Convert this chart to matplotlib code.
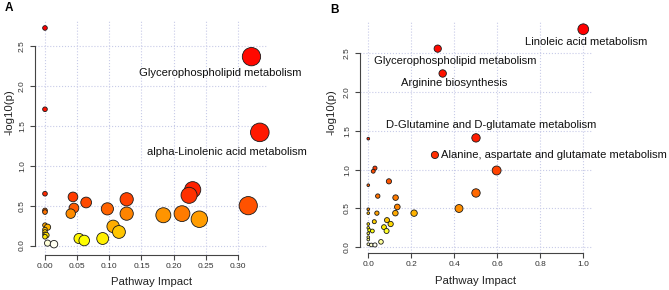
import numpy as np
import matplotlib
matplotlib.use("Agg")
import matplotlib.pyplot as plt
from matplotlib.colors import hsv_to_rgb

plt.rcParams['font.family'] = ['Liberation Sans', 'DejaVu Sans']

# Painel A: impacto da via e -log10(p)
impact_a = [0.0, 0.321, 0.0, 0.334, 0.2296, 0.0, 0.224, 0.0435, 0.127, 0.064,
            0.316, 0.045, 0.097, 0.0, 0.0, 0.213, 0.127, 0.040, 0.184, 0.240,
            0.0, 0.106, 0.004, 0.0, 0.115, 0.0, 0.0, 0.002, 0.0, 0.0897,
            0.053, 0.061, 0.004, 0.014]
logp_a = [2.73, 2.37, 1.71, 1.42, 0.70, 0.65, 0.63, 0.61, 0.58, 0.54,
          0.50, 0.47, 0.46, 0.44, 0.42, 0.40, 0.40, 0.40, 0.38, 0.33,
          0.255, 0.24, 0.23, 0.20, 0.17, 0.17, 0.14, 0.13, 0.11, 0.088,
          0.088, 0.063, 0.03, 0.017]
labels_a = ['Glycerophospholipid metabolism', 'alpha-Linolenic acid metabolism']
label_pos_a = [(0.272, 2.16), (0.2824, 1.176)]

# Painel B
impact_b = [1.0, 0.323, 0.346, 0.501, 0.0, 0.310, 0.031, 0.597, 0.023, 0.096,
            0.0, 0.501, 0.044, 0.127, 0.135, 0.422, 0.0, 0.040, 0.126, 0.213,
            0.0, 0.087, 0.028, 0.104, 0.0, 0.073, 0.0, 0.005, 0.019, 0.085,
            0.0, 0.0, 0.0, 0.059, 0.0, 0.014, 0.031]
logp_b = [2.81, 2.56, 2.24, 1.41, 1.40, 1.19, 1.02, 0.99, 0.98, 0.85,
          0.80, 0.70, 0.66, 0.64, 0.52, 0.50, 0.49, 0.44, 0.44, 0.44,
          0.44, 0.35, 0.33, 0.30, 0.30, 0.26, 0.25, 0.22, 0.21, 0.21,
          0.18, 0.13, 0.10, 0.07, 0.04, 0.03, 0.03]
labels_b = ['Linoleic acid metabolism', 'Glycerophospholipid metabolism',
            'Arginine biosynthesis', 'D-Glutamine and D-glutamate metabolism',
            'Alanine, aspartate and glutamate metabolism']
label_pos_b = [(1.0126, 2.65), (0.4065, 2.40), (0.40, 2.12), (0.573, 1.57), (0.865, 1.186)]


def heat_colors(n):
    # equivalente ao heat.colors do R
    j = n // 4
    i = n - j
    cols = [hsv_to_rgb((h, 1, 1)) for h in np.linspace(0, 1 / 6, i)]
    if j > 0:
        cols += [hsv_to_rgb((1 / 6, s, 1)) for s in np.linspace(1 - 1 / (2 * j), 1 / (2 * j), j)]
    return cols


def painel(ax, x, y, labels, label_pos, xlim, ylim, xticks, fmt, letra, n_escala, n_branco, ylab_x):
    x = np.array(x)
    y = np.array(y)
    inx = np.argsort(-y, kind='stable')
    x, y = x[inx], y[inx]
    sqx = np.sqrt(x)
    max_r = (sqx.max() - sqx.min()) / 40
    min_r = (sqx.max() - sqx.min()) / 160
    radi = min_r + (max_r - min_r) * (sqx - sqx.min()) / (sqx.max() - sqx.min())

    # cores pela ordem de significancia (escala heat), os ultimos ficam brancos
    escala = heat_colors(n_escala)
    n = len(y)
    idx = list(range(n - n_branco)) + list(range(n_escala - n_branco, n_escala))
    cores = [escala[k] for k in idx]

    ax.set_xlim(xlim)
    ax.set_ylim(ylim)
    fig = ax.figure
    w_px = ax.get_position().width * fig.get_figwidth() * fig.dpi
    r_pt = radi * w_px / (xlim[1] - xlim[0]) * 72 / fig.dpi
    ax.scatter(x, y, s=(2 * r_pt) ** 2, c=cores, edgecolors='#1a1a1a',
               linewidths=0.6, zorder=3, clip_on=False)

    ax.grid(True, color='#c8cbe8', linestyle=':', linewidth=0.8)
    ax.set_axisbelow(True)
    for s in ['top', 'right']:
        ax.spines[s].set_visible(False)
    ax.spines['left'].set_bounds(0, 2.5)
    ax.spines['bottom'].set_bounds(xticks[0], xticks[-1])
    for s in ['left', 'bottom']:
        ax.spines[s].set_color('#444444')
        ax.spines[s].set_linewidth(0.8)
    ax.set_xticks(xticks)
    ax.set_xticklabels([fmt.format(t) for t in xticks])
    ax.set_yticks([0, 0.5, 1.0, 1.5, 2.0, 2.5])
    ax.set_yticklabels(['0.0', '0.5', '1.0', '1.5', '2.0', '2.5'], rotation=90, va='center')
    ax.tick_params(axis='both', length=3.5, width=0.8, color='#444444',
                   labelsize=6, labelcolor='#333333')
    ax.tick_params(axis='x', pad=2)
    ax.tick_params(axis='y', pad=3)

    ax.set_xlabel('Pathway Impact', fontsize=8.2, color='#222222', labelpad=5.5)
    ax.set_ylabel('-log10(p)', fontsize=8.2, color='#222222')
    ax.yaxis.set_label_coords(ylab_x, 0.61)

    for lab, (tx, ty) in zip(labels, label_pos):
        ax.text(tx, ty, lab, fontsize=8.1, color='#111111', ha='center', va='center')

    ax.text(-0.13, 1.05, letra, transform=ax.transAxes, fontsize=8.5,
            fontweight='bold', ha='left', va='center')


fig = plt.figure(figsize=(6.69, 2.90), dpi=100)
ax_a = fig.add_axes([0.0523, 0.1207, 0.3478, 0.8103])
ax_b = fig.add_axes([0.5381, 0.1266, 0.3466, 0.7993])

painel(ax_a, impact_a, logp_a, labels_a, label_pos_a, (-0.01554, 0.3462), (-0.119, 2.83),
       [0.0, 0.05, 0.10, 0.15, 0.20, 0.25, 0.30], '{:.2f}', 'A', 42, 2, -0.088)
painel(ax_b, impact_b, logp_b, labels_b, label_pos_b, (-0.0386, 1.04), (-0.0773, 2.91),
       [0.0, 0.2, 0.4, 0.6, 0.8, 1.0], '{:.1f}', 'B', 37, 3, -0.101)

fig.savefig('out.png', dpi=100)
